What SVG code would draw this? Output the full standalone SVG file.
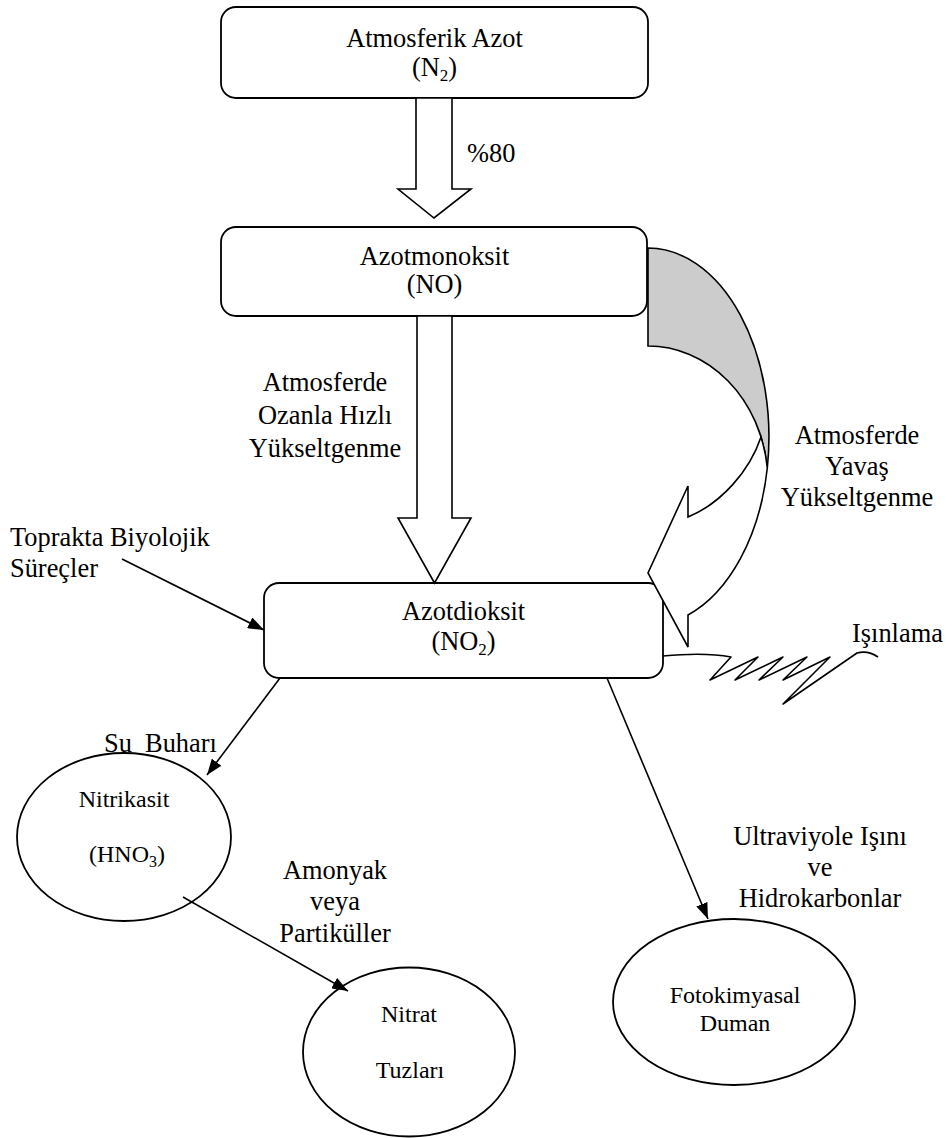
<svg xmlns="http://www.w3.org/2000/svg" width="945" height="1138" viewBox="0 0 945 1138">
<defs>
<style>
.bx{fill:#fff;stroke:#000;stroke-width:1.8}
.el{fill:#fff;stroke:#000;stroke-width:1.8}
.ln{fill:none;stroke:#000;stroke-width:1.6}
.blk{fill:#fff;stroke:#000;stroke-width:1.6;stroke-linejoin:miter}
text{font-family:"Liberation Serif","Times New Roman",serif;font-size:26.4px;fill:#000}
.sm{font-size:24px}
.c{text-anchor:middle}
</style>
<marker id="ah" markerUnits="userSpaceOnUse" markerWidth="16" markerHeight="12" refX="16" refY="6" orient="auto">
<path d="M0,0 L16,6 L0,12 Z" fill="#000"/>
</marker>
</defs>
<rect width="945" height="1138" fill="#fff"/>

<g id="node-n2">
<rect class="bx" x="221" y="7" width="427" height="91" rx="15"/>
<text class="c" x="434.5" y="47">Atmosferik Azot</text>
<text class="c" x="434.5" y="76">(N<tspan font-size="17" dy="5">2</tspan><tspan dy="-5">)</tspan></text>
</g>

<g id="node-no">
<rect class="bx" x="221" y="227" width="426" height="89" rx="15"/>
<text class="c" x="434.5" y="265">Azotmonoksit</text>
<text class="c" x="434.5" y="293">(NO)</text>
</g>

<g id="node-no2">
<rect class="bx" x="264" y="583" width="399" height="95" rx="15"/>
<text class="c" x="463.5" y="620">Azotdioksit</text>
<text class="c" x="463.5" y="650">(NO<tspan font-size="17" dy="5">2</tspan><tspan dy="-5">)</tspan></text>
</g>

<g id="node-hno3">
<ellipse class="el" cx="124" cy="837" rx="107" ry="84"/>
<text class="c sm" x="124" y="807">Nitrikasit</text>
<text class="c sm" x="127" y="862">(HNO<tspan font-size="16" dy="5">3</tspan><tspan dy="-5">)</tspan></text>
</g>

<g id="node-nitrat">
<ellipse class="el" cx="409" cy="1052" rx="106" ry="84.5"/>
<text class="c sm" x="409" y="1022">Nitrat</text>
<text class="c sm" x="410" y="1078">Tuzları</text>
</g>

<g id="node-duman">
<ellipse class="el" cx="734" cy="1002" rx="121" ry="83"/>
<text class="c sm" x="735" y="1003">Fotokimyasal</text>
<text class="c sm" x="735" y="1031">Duman</text>
</g>

<g id="connectors">
<polygon class="blk" points="416,98 452,98 452,189 471,189 434,218 398,189 416,189"/>
<polygon class="blk" points="417,316 452,316 452,518 471,518 434.5,583 398,518 417,518"/>
<path d="M648,248 A121,189 0 0 1 767.3,468 A120,137 0 0 0 648,346 Z" fill="#cccccc" stroke="#000" stroke-width="1.6"/>
<path d="M761,437 C750,470 722,503 688,517 L688,486 L648,573 L688,647 L688,615 A121,189 0 0 0 767.3,468 A120,137 0 0 0 761,437 Z" fill="#fff" stroke="#000" stroke-width="1.6" stroke-linejoin="miter"/>
<line class="ln" x1="122" y1="559" x2="264" y2="630" marker-end="url(#ah)"/>
<line class="ln" x1="280" y1="678" x2="207" y2="775" marker-end="url(#ah)"/>
<line class="ln" x1="183" y1="897" x2="348" y2="991" marker-end="url(#ah)"/>
<line class="ln" x1="607" y1="678" x2="708" y2="919" marker-end="url(#ah)"/>
<path class="ln" stroke-linejoin="round" d="M663,656 Q705,652 731,657 L710,680 L758,657 L735,680 L783,657 L759,680 L807,657 L783,680 L830,657 L783,704 L857,653 Q868,650 878,657"/>
</g>

<g id="labels">
<text x="467" y="162">%80</text>
<text class="c" x="325" y="391">Atmosferde</text>
<text class="c" x="325" y="424">Ozanla Hızlı</text>
<text class="c" x="325" y="457">Yükseltgenme</text>
<text class="c" x="857" y="444">Atmosferde</text>
<text class="c" x="857" y="475">Yavaş</text>
<text class="c" x="857" y="506">Yükseltgenme</text>
<text x="10" y="546">Toprakta Biyolojik</text>
<text x="10" y="577">Süreçler</text>
<text x="852" y="642">Işınlama</text>
<text x="104" y="752" xml:space="preserve">Su  Buharı</text>
<text class="c" x="335" y="879">Amonyak</text>
<text class="c" x="335" y="910">veya</text>
<text class="c" x="335" y="942">Partiküller</text>
<text class="c" x="820" y="845">Ultraviyole Işını</text>
<text class="c" x="820" y="876">ve</text>
<text class="c" x="820" y="907">Hidrokarbonlar</text>
</g>
</svg>
